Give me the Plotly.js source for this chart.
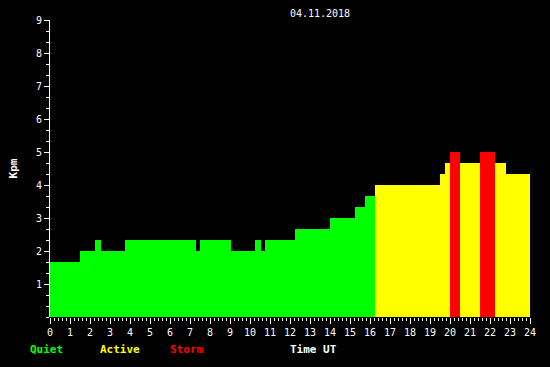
<!DOCTYPE html>
<html>
<head>
<meta charset="utf-8">
<script src="https://cdn.plot.ly/plotly-3.0.1.min.js"></script>
<style>
html,body{margin:0;padding:0;background:#000;}
#chart{width:550px;height:367px;}
</style>
</head>
<body>
<div id="chart"></div>
<script>
// Segment start / end times (hours UT) and Kpm values
var segStart = [0, 1.5, 2.25, 2.55, 3.75, 7.3, 7.5, 9.05, 10.25, 10.55, 10.75, 12.25, 14.0, 15.25, 15.75, 16.25, 19.5, 19.75, 20.0, 20.5, 21.5, 22.25, 22.8];
var segEnd   = [1.5, 2.25, 2.55, 3.75, 7.3, 7.5, 9.05, 10.25, 10.55, 10.75, 12.25, 14.0, 15.25, 15.75, 16.25, 19.5, 19.75, 20.0, 20.5, 21.5, 22.25, 22.8, 24];
var kpm      = [1.667, 2.0, 2.333, 2.0, 2.333, 2.0, 2.333, 2.0, 2.333, 2.0, 2.333, 2.667, 3.0, 3.333, 3.667, 4.0, 4.333, 4.667, 5.0, 4.667, 5.0, 4.667, 4.333];
var xTicks = [0,1,2,3,4,5,6,7,8,9,10,11,12,13,14,15,16,17,18,19,20,21,22,23,24];
var yTicks = [1,2,3,4,5,6,7,8,9];
var dateLabel = "04.11.2018";

var widths = segEnd.map(function(e,i){return e - segStart[i];});
var colors = kpm.map(function(v){ return v >= 5 ? '#ff0000' : (v >= 4 ? '#ffff00' : '#00ff00'); });

var trace = {
  type: 'bar',
  x: segStart,
  y: kpm,
  width: widths,
  offset: 0,
  marker: {color: colors, line: {width: 0}},
  hoverinfo: 'skip'
};

var mono = "DejaVu Sans Mono, monospace";
var layout = {
  width: 550, height: 367,
  paper_bgcolor: '#000', plot_bgcolor: '#000',
  margin: {l: 50, r: 20, t: 20, b: 50},
  showlegend: false,
  font: {family: mono, color: '#fff', size: 10},
  title: {text: dateLabel, font: {family: mono, size: 10, color: '#fff'}, x: 320/550, xanchor: 'center', y: 1 - 13/367, yanchor: 'middle'},
  xaxis: {
    range: [0, 24], showgrid: false, zeroline: false, showline: false,
    tickmode: 'array', tickvals: xTicks, ticktext: xTicks.map(String),
    ticks: 'outside', ticklen: 6, tickcolor: '#fff', tickwidth: 1,
    tickfont: {family: mono, size: 10, color: '#fff'},
    minor: {tickmode: 'linear', tick0: 0, dtick: 0.2, ticks: 'outside', ticklen: 3, tickcolor: '#fff', tickwidth: 1, showgrid: false},
    fixedrange: true, layer: 'below traces'
  },
  yaxis: {
    range: [0, 9], showgrid: false, zeroline: false,
    showline: true, linecolor: '#fff', linewidth: 1,
    tickmode: 'array', tickvals: yTicks, ticktext: yTicks.map(String),
    ticks: 'outside', ticklen: 5, tickcolor: '#fff', tickwidth: 1,
    tickfont: {family: mono, size: 10, color: '#fff'},
    minor: {tickmode: 'linear', tick0: 0, dtick: 1/3, ticks: 'outside', ticklen: 3, tickcolor: '#fff', tickwidth: 1, showgrid: false},
    title: {text: '<b>Kpm</b>', font: {family: mono, size: 11, color: '#fff'}, standoff: 16},
    fixedrange: true, layer: 'below traces'
  },
  annotations: [
    {text: '<b>Quiet</b>', font: {family: mono, size: 11, color: '#00ff00'}, xref: 'paper', yref: 'paper', x: (28-50)/480, y: (317-349)/297, xanchor: 'left', yanchor: 'middle', showarrow: false},
    {text: '<b>Active</b>', font: {family: mono, size: 11, color: '#ffff00'}, xref: 'paper', yref: 'paper', x: (98-50)/480, y: (317-349)/297, xanchor: 'left', yanchor: 'middle', showarrow: false},
    {text: '<b>Storm</b>', font: {family: mono, size: 11, color: '#ff0000'}, xref: 'paper', yref: 'paper', x: (168-50)/480, y: (317-349)/297, xanchor: 'left', yanchor: 'middle', showarrow: false},
    {text: '<b>Time UT</b>', font: {family: mono, size: 11, color: '#ffffff'}, xref: 'paper', yref: 'paper', x: (288-50)/480, y: (317-349)/297, xanchor: 'left', yanchor: 'middle', showarrow: false}
  ]
};

Plotly.newPlot('chart', [trace], layout, {staticPlot: true, displayModeBar: false});
</script>
</body>
</html>
